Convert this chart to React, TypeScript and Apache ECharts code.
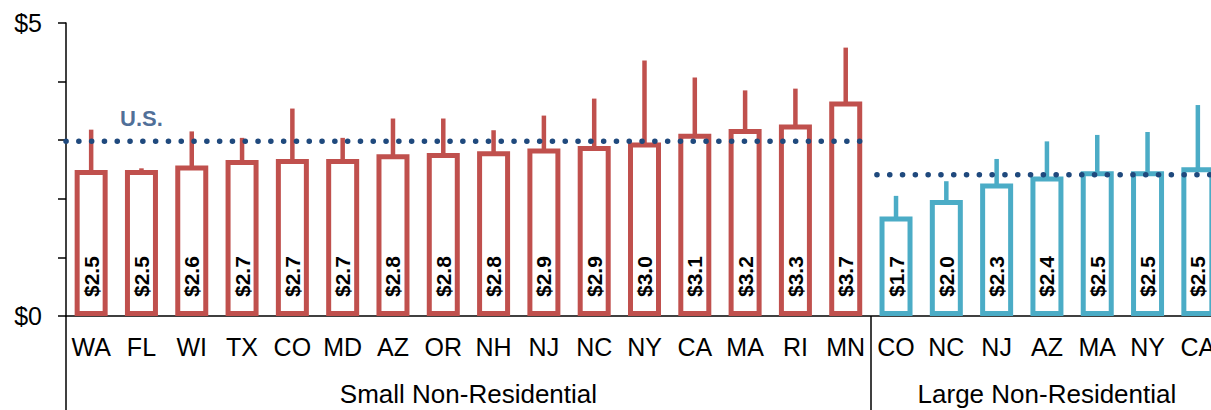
import React, { useEffect, useRef } from "react";
import * as echarts from "echarts";

const smallStates = ["WA", "FL", "WI", "TX", "CO", "MD", "AZ", "OR", "NH", "NJ", "NC", "NY", "CA", "MA", "RI", "MN"];
const smallCost = [2.49, 2.49, 2.57, 2.66, 2.68, 2.68, 2.76, 2.78, 2.81, 2.86, 2.9, 2.96, 3.11, 3.19, 3.27, 3.66];
const smallLow = [2.24, 2.22, 2.28, 2.35, 2.4, 2.43, 2.4, 2.43, 2.51, 2.43, 2.61, 2.31, 2.51, 2.77, 3.01, 2.89];
const smallHigh = [3.18, 2.52, 3.15, 3.04, 3.54, 3.04, 3.37, 3.37, 3.17, 3.42, 3.71, 4.36, 4.07, 3.85, 3.88, 4.58];

const largeStates = ["CO", "NC", "NJ", "AZ", "MA", "NY", "CA"];
const largeCost = [1.7, 1.98, 2.26, 2.38, 2.47, 2.47, 2.54];
const largeLow = [1.51, 1.59, 1.53, 2.36, 1.93, 1.92, 1.87];
const largeHigh = [2.05, 2.3, 2.68, 2.98, 3.09, 3.14, 3.6];

const groupNames = ["Small Non-Residential", "Large Non-Residential"];
const usSmall = 2.98;
const usLarge = 2.41;
const usLabel = "U.S.";
const yTickLabels = ["$0", "$5"];

const RED = "#C0504D";
const TEAL = "#4BACC6";
const NAVY = "#1F497D";
const FONT = "'Liberation Sans', Arial, sans-serif";

export default function App() {
  const ref = useRef<HTMLDivElement>(null);

  useEffect(() => {
    if (!ref.current) return;
    const chart = echarts.init(ref.current, null, { renderer: "svg" });
    const categories = [...smallStates, ...largeStates];
    const nSmall = smallStates.length;
    const nAll = categories.length;

    const barData = [
      ...smallCost.map((v) => ({ value: v, itemStyle: { color: "#fff", borderColor: RED, borderWidth: 5 } })),
      ...largeCost.map((v) => ({ value: v, itemStyle: { color: "#fff", borderColor: TEAL, borderWidth: 5 } })),
    ];

    const errRender = (color: string) => (params: any, api: any) => {
      const x = api.value(0);
      const p1 = api.coord([x, api.value(1)]);
      const p2 = api.coord([x, api.value(2)]);
      return {
        type: "line",
        shape: { x1: p1[0], y1: p1[1], x2: p2[0], y2: p2[1] },
        style: { stroke: color, lineWidth: 4.5 },
      };
    };

    const axisLineStyle = { color: "#000", width: 1.5 };

    chart.setOption({
      animation: false,
      textStyle: { fontFamily: FONT },
      grid: { left: 66, right: 0, top: 23, bottom: 94, containLabel: false },
      xAxis: [
        {
          type: "category",
          data: categories,
          axisLine: { show: true, lineStyle: axisLineStyle },
          axisTick: { show: false },
          axisLabel: { interval: 0, fontSize: 25, color: "#000", margin: 18, fontFamily: FONT },
        },
        {
          type: "value",
          min: 0,
          max: nAll,
          position: "bottom",
          axisLine: { show: false },
          splitLine: { show: false },
          axisTick: { show: true, customValues: [0, nSmall, nAll], length: 94, lineStyle: axisLineStyle },
          axisLabel: {
            customValues: [nSmall / 2, nSmall + (nAll - nSmall) / 2],
            formatter: (v: number) => (v < nSmall ? groupNames[0] : groupNames[1]),
            fontSize: 26,
            margin: 65,
            color: "#000",
            fontFamily: FONT,
          },
        },
      ],
      yAxis: {
        type: "value",
        min: 0,
        max: 5,
        interval: 1,
        axisLine: { show: true, lineStyle: axisLineStyle },
        axisTick: { show: true, length: 8, lineStyle: axisLineStyle },
        splitLine: { show: false },
        axisLabel: {
          formatter: (v: number) => (v === 0 ? yTickLabels[0] : v === 5 ? yTickLabels[1] : ""),
          fontSize: 25,
          margin: 24,
          color: "#000",
          fontFamily: FONT,
        },
      },
      series: [
        {
          type: "bar",
          xAxisIndex: 0,
          data: barData,
          barWidth: 33,
          label: {
            show: true,
            position: "insideBottom",
            distance: 19,
            rotate: 90,
            align: "left",
            verticalAlign: "middle",
            formatter: (p: any) => "$" + Number(p.value).toFixed(1),
            fontSize: 21,
            fontWeight: "bold",
            color: "#000",
            fontFamily: FONT,
          },
        },
        {
          type: "custom",
          xAxisIndex: 0,
          renderItem: errRender(RED),
          encode: { x: 0, y: [1, 2] },
          data: smallLow.map((l, i) => [i, l, smallHigh[i]]),
        },
        {
          type: "custom",
          xAxisIndex: 0,
          renderItem: errRender(TEAL),
          encode: { x: 0, y: [1, 2] },
          data: largeLow.map((l, i) => [i + nSmall, l, largeHigh[i]]),
        },
        {
          type: "line",
          xAxisIndex: 1,
          symbol: "none",
          showSymbol: false,
          lineStyle: { color: NAVY, width: 5.5, type: [0.1, 12.7], cap: "round" },
          data: [
            [0, usSmall],
            [nSmall - 0.2, usSmall],
          ],
        },
        {
          type: "line",
          xAxisIndex: 1,
          symbol: "none",
          showSymbol: false,
          lineStyle: { color: NAVY, width: 5.5, type: [0.1, 12.7], cap: "round" },
          data: [
            [nSmall + 0.12, usLarge],
            [nAll, usLarge],
          ],
        },
        {
          type: "scatter",
          xAxisIndex: 1,
          symbolSize: 0,
          data: [[1.5, usSmall]],
          label: {
            show: true,
            position: "top",
            distance: 12,
            formatter: usLabel,
            fontSize: 22,
            fontWeight: "bold",
            color: NAVY,
            fontFamily: FONT,
          },
        },
      ],
    });
    return () => chart.dispose();
  }, []);

  return (
    <div
      ref={ref}
      style={{ position: "fixed", left: 0, top: 0, width: "1223px", height: "410px", background: "#fff" }}
    />
  );
}
